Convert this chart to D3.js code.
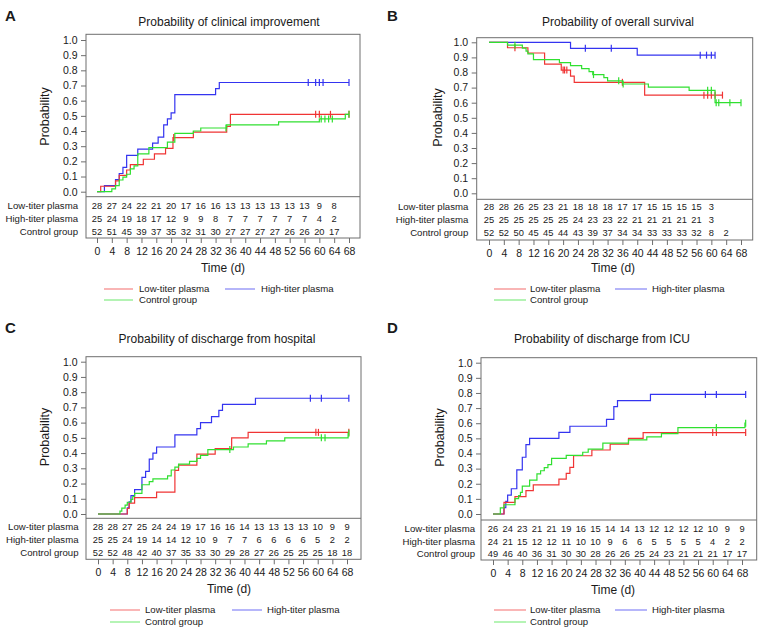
<!DOCTYPE html>
<html><head><meta charset="utf-8">
<script src="https://cdn.jsdelivr.net/npm/d3@7"></script>
<style>
body{margin:0;background:#fff}
svg{display:block}
text{font-family:"Liberation Sans",Arial,Helvetica,sans-serif;fill:#1a1a1a}
</style>
</head><body>
<svg id="c" width="762" height="632"></svg>
<script>
// ---------- shared data ----------
const xTicks = [0,4,8,12,16,20,24,28,32,36,40,44,48,52,56,60,64,68];
const yTicks = [0,0.1,0.2,0.3,0.4,0.5,0.6,0.7,0.8,0.9,1.0];
const seriesNames = ["Low-titer plasma","High-titer plasma","Control group"];
const seriesColors = ["#f03434","#3434f0","#30e030"];
const panelLetters = ["A","B","C","D"];
const panelTitles = ["Probability of clinical improvement","Probability of overall survival",
  "Probability of discharge from hospital","Probability of discharge from ICU"];
const startValues = [0,1,0,0];

// ---------- Panel A ----------
const aLowSteps = [[1,0.036],[5,0.071],[6,0.107],[8,0.143],[9,0.179],[12.5,0.214],[15.5,0.25],[18.5,0.286],[20.5,0.357],[26,0.393],[35,0.43],[36,0.51]];
const aLowCens = [20.7,59,60,63,68];
const aHighSteps = [[2,0.04],[5,0.08],[6,0.12],[7,0.16],[8,0.24],[11,0.28],[15,0.32],[16.5,0.36],[18,0.44],[19,0.48],[20,0.52],[21,0.64],[32,0.68],[33,0.72]];
const aHighCens = [57,59,60,61,68];
const aCtrlSteps = [[4,0.019],[5,0.04],[6,0.077],[7,0.096],[8,0.115],[9,0.15],[10,0.17],[11,0.25],[14,0.29],[19,0.327],[21,0.385],[26,0.40],[28,0.42],[35,0.44],[49,0.46],[60,0.48],[67,0.51]];
const aCtrlCens = [34.8,60.5,61.5,62.5,63.5,68];
const aEnds = [68,68,68];
const aLowRisk  = [28,27,24,22,21,20,17,16,16,13,13,13,13,13,13,9,8];
const aHighRisk = [25,24,19,18,17,12,9,9,8,7,7,7,7,7,7,4,2];
const aCtrlRisk = [52,51,45,39,37,35,32,31,30,27,27,27,27,26,26,20,17];

// ---------- Panel B ----------
const bLowSteps = [[5,0.964],[10.5,0.929],[15,0.855],[19.5,0.816],[22,0.776],[23,0.735],[42,0.65]];
const bLowCens = [7,20,20.4,21,36,58,59,60,61,63];
const bHighSteps = [[22,0.96],[40,0.915]];
const bHighCens = [26,33,57,58.7,60,61];
const bCtrlSteps = [[5,0.981],[9,0.962],[10,0.942],[10.5,0.923],[12,0.885],[19,0.865],[22,0.846],[25,0.826],[27,0.806],[28,0.786],[31,0.766],[32,0.745],[36,0.724],[43,0.703],[54,0.682],[61,0.60]];
const bCtrlCens = [7,28.2,35,36.2,59,60,61.3,62,65,68];
const bEnds = [63,61,68];
const bLowRisk  = [28,28,26,25,23,21,18,18,18,17,17,15,15,15,15,3];
const bHighRisk = [25,25,25,25,25,25,24,23,23,22,21,21,21,21,21,3];
const bCtrlRisk = [52,52,50,45,45,44,43,39,37,34,34,33,33,33,32,8,2];

// ---------- Panel C ----------
const cLowSteps = [[8,0.036],[8.5,0.071],[10,0.107],[16,0.143],[21,0.286],[22,0.321],[27,0.393],[32,0.43],[36.5,0.50],[41,0.536]];
const cLowCens = [59.5,60.2,68.5];
const cHighSteps = [[8,0.04],[8.5,0.08],[9,0.12],[10,0.16],[12,0.24],[13,0.28],[14,0.36],[15,0.40],[16,0.44],[21,0.52],[27,0.56],[28,0.60],[31,0.64],[33,0.68],[34,0.72],[43,0.76]];
const cHighCens = [58,61,68.5];
const cCtrlSteps = [[6,0.019],[6.5,0.038],[7.4,0.058],[8,0.077],[9,0.096],[9.5,0.115],[10,0.135],[12,0.192],[14,0.212],[15,0.231],[19,0.25],[20,0.289],[21,0.308],[22,0.327],[25,0.346],[27,0.365],[28,0.385],[30,0.423],[37,0.44],[41,0.46],[46,0.48],[51,0.50],[68.3,0.53]];
const cCtrlCens = [36,61,62,68.5];
const cEnds = [68.5,68.5,68.5];
const cLowRisk  = [28,28,27,25,24,24,19,17,16,16,14,13,13,13,13,10,9,9];
const cHighRisk = [25,25,24,19,14,14,12,10,9,7,7,6,6,6,6,5,2,2];
const cCtrlRisk = [52,52,48,42,40,37,35,33,30,29,28,27,26,25,25,25,18,18];

// ---------- Panel D ----------
const dLowSteps = [[3,0.077],[6,0.115],[9,0.154],[11,0.192],[18,0.231],[20,0.269],[21,0.308],[22,0.385],[27,0.423],[32,0.462],[37,0.50],[41,0.538]];
const dLowCens = [60,61,69];
const dHighSteps = [[3,0.042],[3.5,0.083],[4,0.125],[5,0.167],[6.5,0.292],[8,0.375],[9,0.458],[10,0.50],[18,0.54],[21,0.58],[31,0.625],[33,0.71],[34,0.75],[43,0.79]];
const dHighCens = [58,61,69];
const dCtrlSteps = [[2,0.041],[3,0.061],[6,0.102],[7,0.122],[7.5,0.143],[8,0.184],[10,0.224],[12,0.265],[13,0.286],[14,0.306],[15,0.327],[16,0.367],[20,0.388],[24.5,0.408],[26,0.429],[30,0.469],[37,0.49],[42,0.51],[46,0.531],[50.5,0.571],[68.8,0.60]];
const dCtrlCens = [61,69];
const dEnds = [69,69,69];
const dLowRisk  = [26,24,23,21,21,19,16,15,14,14,13,12,12,12,12,10,9,9];
const dHighRisk = [24,21,15,12,12,11,10,10,9,6,6,5,5,5,5,4,2,2];
const dCtrlRisk = [49,46,40,36,31,30,30,28,26,26,25,24,23,21,21,21,17,17];

// ---------- assemble ----------
const panelsData = [
  {steps:[aLowSteps,aHighSteps,aCtrlSteps], cens:[aLowCens,aHighCens,aCtrlCens], ends:aEnds, risk:[aLowRisk,aHighRisk,aCtrlRisk]},
  {steps:[bLowSteps,bHighSteps,bCtrlSteps], cens:[bLowCens,bHighCens,bCtrlCens], ends:bEnds, risk:[bLowRisk,bHighRisk,bCtrlRisk]},
  {steps:[cLowSteps,cHighSteps,cCtrlSteps], cens:[cLowCens,cHighCens,cCtrlCens], ends:cEnds, risk:[cLowRisk,cHighRisk,cCtrlRisk]},
  {steps:[dLowSteps,dHighSteps,dCtrlSteps], cens:[dLowCens,dHighCens,dCtrlCens], ends:dEnds, risk:[dLowRisk,dHighRisk,dCtrlRisk]}
];

// layout (pixel geometry)
const layouts = [
  {letter:[5,20.5], title:[229,26], box:{l:86,r:360,t:34.3,sep:196.7,b:238}, x:[97,349], y:[191.7,40],
   rows:[209,222,234.7], labelX:78, time:[223,271.5], ylab:[49,116.5],
   leg:{y1:289,y2:300,red:[104,133,139],blue:[225,255,261]}},
  {letter:[387,20.5], title:[618,26], box:{l:476.7,r:752.7,t:37.7,sep:199.3,b:240}, x:[489,741], y:[193.3,42.3],
   rows:[210,223.3,235.7], labelX:468.3, time:[613,272], ylab:[442,117.5],
   leg:{y1:289,y2:300,red:[494,526,530],blue:[615,647,652]}},
  {letter:[5,332.7], title:[217,342.7], box:{l:86,r:361,t:356.7,sep:518.3,b:559.3}, x:[98,347], y:[514,361.7],
   rows:[530,543.3,556], labelX:78.5, time:[229,593], ylab:[49,437],
   leg:{y1:610,y2:622,red:[110,140,145],blue:[232,262,267]}},
  {letter:[387,332.7], title:[602,342.7], box:{l:481,r:756.7,t:357.7,sep:520,b:560}, x:[493,742], y:[514,362.7],
   rows:[531.7,544.7,556.7], labelX:475, time:[613,594], ylab:[444,437.5],
   leg:{y1:610,y2:622,red:[494,526,530],blue:[615,647,652]}}
];

const svg = d3.select("#c");
const GRID = "#6e6e6e";
const drawOrder = [1,0,2];

panelsData.forEach((pd, pi) => {
  const L = layouts[pi];
  const g = svg.append("g");
  const x = d3.scaleLinear().domain([0,68]).range(L.x);
  const y = d3.scaleLinear().domain([0,1]).range(L.y);

  g.append("text").attr("x",L.letter[0]).attr("y",L.letter[1])
    .style("font-size","15px").style("font-weight","bold").text(panelLetters[pi]);
  g.append("text").attr("x",L.title[0]).attr("y",L.title[1]).attr("text-anchor","middle")
    .style("font-size","12px").text(panelTitles[pi]);

  const B = L.box;
  g.append("rect").attr("x",B.l).attr("y",B.t).attr("width",B.r-B.l).attr("height",B.b-B.t)
    .attr("fill","none").attr("stroke",GRID).attr("stroke-width",1);
  g.append("line").attr("x1",B.l).attr("x2",B.r).attr("y1",B.sep).attr("y2",B.sep)
    .attr("stroke",GRID).attr("stroke-width",1);

  const ya = g.append("g").attr("transform",`translate(${B.l},0)`)
    .call(d3.axisLeft(y).tickValues(yTicks).tickFormat(d3.format(".1f")).tickSize(5).tickPadding(3.5));
  ya.select(".domain").remove();
  ya.selectAll("line").attr("stroke",GRID);
  ya.selectAll("text").style("font-size","10.5px").attr("fill","#1a1a1a");

  const xa = g.append("g").attr("transform",`translate(0,${B.b})`)
    .call(d3.axisBottom(x).tickValues(xTicks).tickFormat(d3.format("d")).tickSize(5).tickPadding(4.5));
  xa.select(".domain").remove();
  xa.selectAll("line").attr("stroke",GRID);
  xa.selectAll("text").style("font-size","10.5px").attr("fill","#1a1a1a");

  g.append("text").attr("x",L.time[0]).attr("y",L.time[1]).attr("text-anchor","middle")
    .style("font-size","12px").text("Time (d)");
  g.append("text").attr("transform",`translate(${L.ylab[0]},${L.ylab[1]}) rotate(-90)`)
    .attr("text-anchor","middle").style("font-size","12.5px").text("Probability");

  seriesNames.forEach((name, si) => {
    g.append("text").attr("x",L.labelX).attr("y",L.rows[si]).attr("text-anchor","end")
      .style("font-size","9.6px").text(name);
    g.selectAll(null).data(pd.risk[si]).enter().append("text")
      .attr("x",(d,i)=>x(xTicks[i])).attr("y",L.rows[si]).attr("text-anchor","middle")
      .style("font-size","9.3px").text(d=>d);
  });

  const line = d3.line().x(d=>x(d[0])).y(d=>y(d[1])).curve(d3.curveStepAfter);
  drawOrder.forEach(si => {
    const steps = pd.steps[si];
    const s0 = startValues[pi];
    const last = steps.length ? steps[steps.length-1][1] : s0;
    const pts = [[0,s0], ...steps, [pd.ends[si], last]];
    g.append("path").attr("d",line(pts)).attr("fill","none")
      .attr("stroke",seriesColors[si]).attr("stroke-width",1.2);
    const level = t => { let v = s0; steps.forEach(s=>{ if (s[0] <= t) v = s[1]; }); return v; };
    g.selectAll(null).data(pd.cens[si]).enter().append("line")
      .attr("x1",d=>x(d)).attr("x2",d=>x(d))
      .attr("y1",d=>y(level(d))-3.5).attr("y2",d=>y(level(d))+3.5)
      .attr("stroke",seriesColors[si]).attr("stroke-width",1.2);
  });

  const lg = L.leg;
  const legItems = [
    {si:0, x1:lg.red[0], x2:lg.red[1], tx:lg.red[2], y:lg.y1},
    {si:1, x1:lg.blue[0], x2:lg.blue[1], tx:lg.blue[2], y:lg.y1},
    {si:2, x1:lg.red[0], x2:lg.red[1], tx:lg.red[2], y:lg.y2}
  ];
  legItems.forEach(it => {
    g.append("line").attr("x1",it.x1).attr("x2",it.x2).attr("y1",it.y).attr("y2",it.y)
      .attr("stroke",seriesColors[it.si]).attr("stroke-width",1.2).attr("stroke-opacity",0.6);
    g.append("text").attr("x",it.tx).attr("y",it.y+3.4).style("font-size","9.6px").text(seriesNames[it.si]);
  });
});
</script>
</body></html>
